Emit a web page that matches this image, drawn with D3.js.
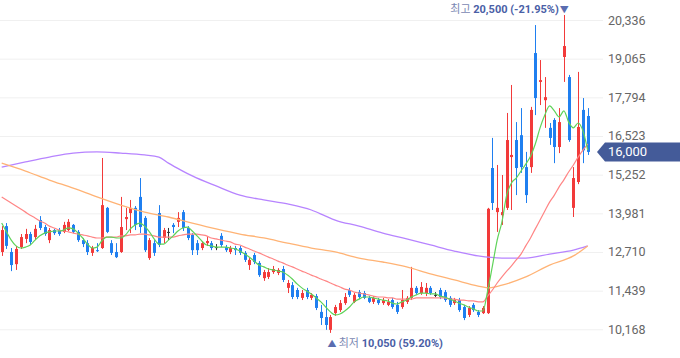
<!DOCTYPE html>
<html><head><meta charset="utf-8">
<script src="https://cdn.jsdelivr.net/npm/d3@7"></script>
<style>html,body{margin:0;padding:0;background:#fff;}svg{display:block;}</style>
</head><body><svg id="c" width="680" height="358"></svg>
<script>
const openP = [12710,13560,12710,12310,12870,13140,13300,13200,13760,13530,
13100,13430,13430,13370,13430,13600,13370,13100,13000,12680,
12770,12840,14160,13000,12710,12710,13790,13990,14160,14520,
13830,12510,13000,13990,13170,13370,13600,13700,14020,13500,
13270,13000,12840,13000,13000,12870,13240,12870,12710,12840,
12840,12680,12280,12610,12350,11850,11890,12050,12020,12150,
11530,11620,11460,11200,11460,11200,11260,10740,10570,10150,
10700,10800,11030,11460,11070,11390,11360,11200,11070,11130,
11030,10970,11130,10970,10900,11070,11200,11530,11360,11360,
11530,11300,11460,11390,11200,11030,11130,10900,10640,10970,
10740,10700,10700,15470,14020,13920,14160,15830,16390,16550,
15500,15500,19250,18300,17700,16790,17050,16160,19120,18460,
14160,15010,17380,17180];
const highP = [13560,13660,12840,12910,13300,13470,13370,13600,13890,13600,
13500,13470,13500,13700,13790,13630,13430,13170,13100,12910,
13000,15800,14190,13100,13000,14520,14160,14420,14220,15140,
13890,13170,13100,14250,13500,13500,13660,14020,14090,13560,
13330,13100,13070,13200,13070,12970,13330,12940,12910,12910,
12910,12740,12510,12680,12410,12120,12180,12250,12180,12250,
11790,11720,11530,11460,11530,11360,11330,10970,11130,10640,
10970,11130,11360,11530,11360,11460,11430,11260,11260,11200,
11200,11160,11200,11070,11460,11260,12220,11590,11720,11690,
11590,11390,11530,11460,11260,11200,11200,10970,10930,11030,
10800,10930,14160,16460,15570,15240,17280,18200,16980,17440,
16000,17480,20170,19020,18460,16950,17110,17440,20500,18530,
15500,18630,17770,17440];
const lowP = [12580,12810,12080,12120,12810,13000,12940,13100,13430,13240,
13000,13270,13240,13330,13400,13330,13040,12870,12610,12580,
12710,12810,13330,12610,12510,12680,13430,13330,13430,13330,
12710,12450,12580,12870,13000,13100,13330,13530,13400,13100,
12610,12610,12770,12910,12770,12770,12870,12710,12640,12610,
12610,12380,12120,12310,11890,11760,11820,11990,11950,11720,
11360,11160,11160,11130,11160,11130,10800,10310,10150,10050,
10610,10740,10970,11230,11030,11160,11160,11030,11000,10970,
10970,10930,10840,10670,10840,11000,11130,11300,11300,11260,
11300,11230,11160,11070,10900,10970,10740,10470,10570,10740,
10570,10670,10670,14090,13370,13600,14090,14090,14580,15310,
14320,15310,17210,17540,16790,16230,15630,15960,18300,16330,
13860,14940,15630,15900];
const closeP = [13430,12910,12280,12810,13200,13300,13040,13470,13500,13300,
13430,13330,13300,13600,13700,13370,13100,12970,12710,12840,
12740,14250,13370,12680,12540,13530,13860,14160,13600,13530,
12770,13100,12680,12940,13430,13370,13530,13830,13500,13170,
12770,12770,13000,13070,12840,12870,12940,12770,12840,12770,
12680,12450,12450,12380,11950,12050,12050,12150,12120,11790,
11690,11230,11230,11360,11230,11300,10870,10540,10310,10570,
10900,11030,11230,11300,11300,11230,11200,11070,11200,11030,
11130,11070,10900,10740,11130,11200,11530,11360,11560,11530,
11360,11300,11230,11130,10970,11130,10800,10540,10870,10800,
10640,10870,14130,14320,14160,14020,16390,15900,15470,15500,
14580,17380,17770,18360,17800,16460,16160,16980,19480,16390,
15140,16820,16050,16000];
const ma5 = [13660,13370,13100,12910,12840,12870,12940,13100,13240,13330,
13370,13400,13400,13430,13500,13470,13330,13170,12970,12840,
12870,13070,13200,13200,13170,13170,13270,13470,13600,13660,
13560,13370,13140,12970,12970,13100,13240,13400,13500,13530,
13400,13240,13070,12940,12910,12870,12870,12870,12840,12810,
12740,12640,12540,12410,12280,12220,12150,12120,12080,12050,
11950,11820,11660,11530,11430,11330,11200,11070,10900,10740,
10640,10670,10770,10900,11070,11160,11230,11230,11200,11160,
11130,11100,11030,11000,11070,11130,11230,11300,11360,11360,
11330,11330,11260,11230,11160,11100,11030,10970,10900,10840,
10770,10770,11430,12250,13100,13700,14580,14980,15140,15370,
15600,15860,16260,16790,17210,17510,17350,17150,17350,16980,
16790,16950,16690,16060];
const ma20 = [14520,14420,14320,14220,14120,14020,13920,13830,13730,13660,
13560,13500,13430,13400,13370,13330,13300,13270,13240,13200,
13170,13170,13200,13200,13200,13240,13240,13270,13270,13300,
13300,13270,13240,13200,13200,13200,13200,13240,13270,13300,
13300,13300,13270,13240,13170,13140,13100,13070,13040,12970,
12940,12870,12810,12740,12680,12610,12540,12480,12410,12350,
12280,12220,12150,12080,12020,11950,11890,11820,11760,11690,
11620,11560,11490,11460,11390,11360,11330,11300,11260,11230,
11230,11200,11200,11160,11160,11160,11160,11200,11200,11200,
11200,11200,11200,11200,11160,11160,11130,11130,11100,11100,
11070,11070,11260,11460,11690,11890,12080,12250,12450,12640,
12910,13170,13470,13760,14060,14350,14580,14850,15080,15340,
15570,15830,16060,16260];
const ma60Day = [0,5,10,15,20,25,30,35,40,45,50,55,60,65,70,75,80,85,90,95,100,102,105,110,115,120,123];
const ma60 = [15630,15370,15075,14810,14520,14250,14020,13860,13660,13470,13300,13170,13000,12840,12710,12510,12380,12220,11990,11790,11590,11530,11620,11890,12280,12580,12910];
const ma120Day = [0,5,10,15,20,25,30,33,35,38,40,45,50,55,60,65,68,70,75,80,85,90,95,100,105,110,115,120,123];
const ma120 = [15500,15670,15830,15960,16000,15960,15900,15830,15630,15370,15210,14880,14580,14420,14290,14090,13890,13760,13560,13330,13140,12940,12740,12580,12510,12510,12640,12770,12910];
const yTicks = [10168,11439,12710,13981,15252,16523,17794,19065,20336];
const highLabel = "최고";
const lowLabel = "최저";

const UP = "#f23a3a", DOWN = "#1f7ff0", FLAT = "#333333";
const n = closeP.length;
const svg = d3.select("#c");
const x = d3.scaleLinear().domain([0, n - 1]).range([1.7, 587.7]);
const y = d3.scaleLinear().domain([10168, 20336]).range([329.3, 20]);
const fmt = d3.format(",");
const FONT = "Roboto, 'Noto Sans CJK KR', sans-serif";

// axis + grid
const ax = svg.append("g").attr("transform", "translate(603,0)")
  .call(d3.axisRight(y).tickValues(yTicks).tickSize(-603).tickPadding(5).tickFormat(fmt));
ax.select(".domain").remove();
ax.selectAll("line").attr("stroke", "#f0f0f0");
ax.selectAll("text").attr("fill", "#666").attr("font-size", 12.5).attr("font-family", FONT);

// candles
const data = closeP.map((c, i) => ({i, o: openP[i], h: highP[i], l: lowP[i], c}));
const col = d => d.c > d.o ? UP : (d.c < d.o ? DOWN : FLAT);
const cx = d => Math.round(x(d.i)) + 0.5;
const cg = svg.append("g");
cg.selectAll("line").data(data).join("line")
  .attr("x1", cx).attr("x2", cx)
  .attr("y1", d => y(d.h)).attr("y2", d => y(d.l))
  .attr("stroke", col).attr("stroke-width", 1);
cg.selectAll("rect").data(data).join("rect")
  .attr("x", d => cx(d) - 1.5).attr("width", 3)
  .attr("y", d => y(Math.max(d.o, d.c)))
  .attr("height", d => Math.max(1, Math.abs(y(d.o) - y(d.c))))
  .attr("fill", col);

// moving averages
const lineIdx = d3.line().x((d, i) => x(i)).y(d => y(d)).curve(d3.curveMonotoneX);
const lineKnot = days => d3.line().x((d, k) => x(days[k])).y(d => y(d)).curve(d3.curveMonotoneX);
svg.append("path").attr("d", lineKnot(ma120Day)(ma120)).attr("fill", "none").attr("stroke", "#b784ff").attr("stroke-width", 1.3);
svg.append("path").attr("d", lineKnot(ma60Day)(ma60)).attr("fill", "none").attr("stroke", "#ffb375").attr("stroke-width", 1.3);
svg.append("path").attr("d", lineIdx(ma20)).attr("fill", "none").attr("stroke", "#ff8585").attr("stroke-width", 1.2);
svg.append("path").attr("d", lineIdx(ma5)).attr("fill", "none").attr("stroke", "#5fd35a").attr("stroke-width", 1.2);

// high / low annotations
const last = closeP[n - 1];
const hiV = d3.max(highP), hiI = highP.indexOf(hiV);
const loV = d3.min(lowP), loI = lowP.indexOf(loV);
const pct = v => ((last / v - 1) * 100).toFixed(2) + "%";
const ht = svg.append("text").attr("x", x(hiI) + 5).attr("y", y(hiV) - 2)
  .attr("text-anchor", "end").attr("font-family", FONT).attr("font-size", 11);
ht.append("tspan").attr("fill", "#7b88b3").text(highLabel + " ");
ht.append("tspan").attr("fill", "#4a60a6").attr("font-weight", "bold").text(fmt(hiV) + " (" + pct(hiV) + ")");
ht.append("tspan").attr("fill", "#5a6db0").attr("font-size", 9).attr("dx", 1).text("▼");
const lt = svg.append("text").attr("x", x(loI) - 3).attr("y", y(loV) + 14)
  .attr("text-anchor", "start").attr("font-family", FONT).attr("font-size", 11);
lt.append("tspan").attr("fill", "#5a6db0").attr("font-size", 9).text("▲ ");
lt.append("tspan").attr("fill", "#7b88b3").text(lowLabel + " ");
lt.append("tspan").attr("fill", "#4a60a6").attr("font-weight", "bold").text(fmt(loV) + " (" + pct(loV) + ")");

// current price tag
const yp = y(last);
const tx = 597;
svg.append("path")
  .attr("d", `M${tx},${yp} L${tx + 8},${yp - 9.5} L680,${yp - 9.5} L680,${yp + 9.5} L${tx + 8},${yp + 9.5} Z`)
  .attr("fill", "#445b99");
svg.append("text").attr("x", 608).attr("y", yp).attr("dy", "0.35em")
  .attr("fill", "#fff").attr("font-family", FONT).attr("font-size", 13).text(fmt(last));
</script></body></html>
